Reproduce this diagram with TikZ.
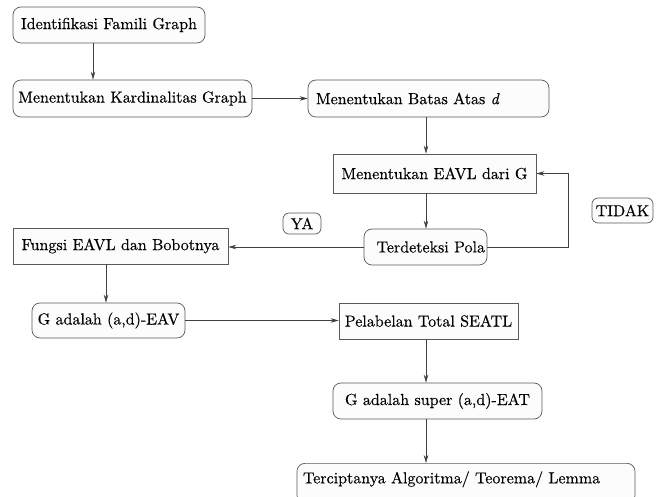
\documentclass[tikz,border=0pt]{standalone}
\usepackage{fontspec}
\usetikzlibrary{arrows.meta}
\newfontfamily\heavyfont{lmroman10-regular}[Extension=.otf, ItalicFont=lmroman10-italic, FakeBold=0.3]
\newcommand\diafont{\heavyfont\fontsize{16}{19}\selectfont}
\begin{document}
\begin{tikzpicture}[x=1pt,y=-1pt,
  rbox/.style={draw=black!65, fill=black!1, rounded corners=8pt, inner xsep=2pt, inner ysep=0pt, font=\diafont, line width=0.7pt},
  sbox/.style={rbox, rounded corners=0pt},
  arr/.style={-{Stealth[length=8pt,width=4.5pt]}, draw=black!75, line width=0.6pt}]
\useasboundingbox (0,0) rectangle (664,497);
\clip (0,0) rectangle (664,497);
\coordinate (xa) at (93,0);
\coordinate (xb) at (426,0);
\coordinate (xc) at (106,0);
\coordinate (fb) at (568,0);
\node[rbox, minimum width=192pt, minimum height=36pt] (n1) at (109,25) {Identifikasi Famili Graph};
\node[rbox, minimum width=239pt, minimum height=37pt] (n2) at (132.5,98.5) {Menentukan Kardinalitas Graph};
\node[rbox, inner xsep=8pt, text width=225pt, align=left, minimum height=37pt] (n3) at (428.5,98.5) {Menentukan Batas Atas \emph{d}};
\node[sbox, minimum width=203pt, minimum height=39pt] (n4) at (434.5,173.5) {Menentukan EAVL dari G};
\node[rbox, inner xsep=2pt, text width=119pt, align=right, minimum height=36pt] (n5) at (425.5,247) {Terdeteksi Pola};
\node[rbox, rounded corners=6pt, minimum width=61pt, minimum height=25pt] (n6) at (622.5,210.5) {TIDAK};
\node[rbox, rounded corners=6pt, minimum width=38pt, minimum height=21pt] (n7) at (302,223.5) {YA};
\node[sbox, minimum width=215pt, minimum height=36pt] (n8) at (120.5,246) {Fungsi EAVL dan Bobotnya};
\node[rbox, minimum width=153pt, minimum height=35pt] (n9) at (108.5,320.5) {G adalah (a,d)-EAV};
\node[sbox, minimum width=179pt, minimum height=36pt] (n10) at (428.5,321) {Pelabelan Total SEATL};
\node[rbox, minimum width=209pt, minimum height=36pt] (n11) at (437.5,401) {G adalah super (a,d)-EAT};
\node[rbox, anchor=north, inner xsep=6pt, inner ysep=8pt, text width=326pt, text height=12pt, text depth=12pt, align=left] (n12) at (466,463) {Terciptanya Algoritma/ Teorema/ Lemma};
\draw[arr] (n1.south -| xa) -- (n2.north -| xa);
\draw[arr] (n2.east) -- (n3.west);
\draw[arr] (n3.south -| xb) -- (n4.north -| xb);
\draw[arr] (n4.south -| xb) -- (n5.north -| xb);
\draw[arr] (n5.east) -| (fb |- n4.east) -- (n4.east);
\draw[arr] (n5.west) -- (n5.west -| n8.east);
\draw[arr] (n8.south -| xc) -- (n9.north -| xc);
\draw[arr] (n9.east) -- (n9.east -| n10.west);
\draw[arr] (n10.south -| xb) -- (n11.north -| xb);
\draw[arr] (n11.south -| xb) -- (n12.north -| xb);
\end{tikzpicture}
\end{document}
